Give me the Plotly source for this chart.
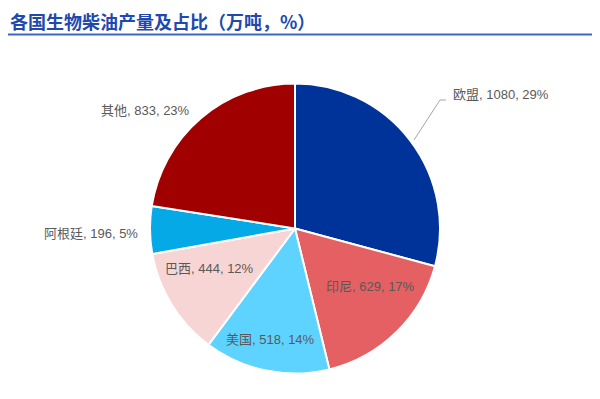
import plotly.graph_objects as go

labels = ["欧盟", "印尼", "美国", "巴西", "阿根廷", "其他"]
values = [1080, 629, 518, 444, 196, 833]
colors = ["#003399", "#E46062", "#5FD3FF", "#F8D5D5", "#04A9E6", "#A00000"]

title_text = "各国生物柴油产量及占比（万吨，%）"

# figure size (page has an 8px body margin, so the figure is drawn 8px in)
W, H = 592, 391

# label placement (figure pixels) and anchors — styling only
label_xy = [(443, 87), (362.5, 278), (262, 331), (201.5, 260), (83, 225), (137, 102)]
label_anchor = ["left", "center", "center", "center", "center", "center"]

total = sum(values)
texts = [f"{l}, {v}, {round(100 * v / total)}%" for l, v in zip(labels, values)]


def px(x):
    return x / W


def py(y):
    return 1 - y / H


fig = go.Figure()
fig.add_trace(go.Pie(
    labels=labels,
    values=values,
    sort=False,
    direction="clockwise",
    rotation=0,
    marker=dict(colors=colors, line=dict(color="white", width=2)),
    textinfo="none",
    domain=dict(x=[px(142), px(432)], y=[py(365.5), py(75.5)]),
    showlegend=False,
    hoverinfo="label+value+percent",
))

font_lbl = dict(family="Liberation Sans, Noto Sans CJK SC", size=13, color="#595959")
annotations = [dict(
    text="<b>" + title_text + "</b>",
    x=0, y=py(13), xref="paper", yref="paper",
    xanchor="left", yanchor="middle", showarrow=False,
    font=dict(family="Noto Sans CJK SC", size=18, color="#2148AE"),
)]
for t, (x, y), a in zip(texts, label_xy, label_anchor):
    annotations.append(dict(
        text=t, x=px(x), y=py(y), xref="paper", yref="paper",
        xanchor=a, yanchor="middle", showarrow=False, font=font_lbl,
    ))

fig.update_layout(
    width=W, height=H,
    margin=dict(l=0, r=0, t=0, b=0),
    paper_bgcolor="white",
    plot_bgcolor="white",
    annotations=annotations,
    shapes=[
        dict(type="line", xref="paper", yref="paper",
             x0=0, x1=1, y0=py(26.5), y1=py(26.5),
             line=dict(color="#3F66C4", width=2)),
        dict(type="path", xref="paper", yref="paper",
             path=f"M {px(406)},{py(132)} L {px(432)},{py(92)} L {px(438)},{py(92)}",
             line=dict(color="#A6A6A6", width=1)),
    ],
)

fig.write_html("out.html")
